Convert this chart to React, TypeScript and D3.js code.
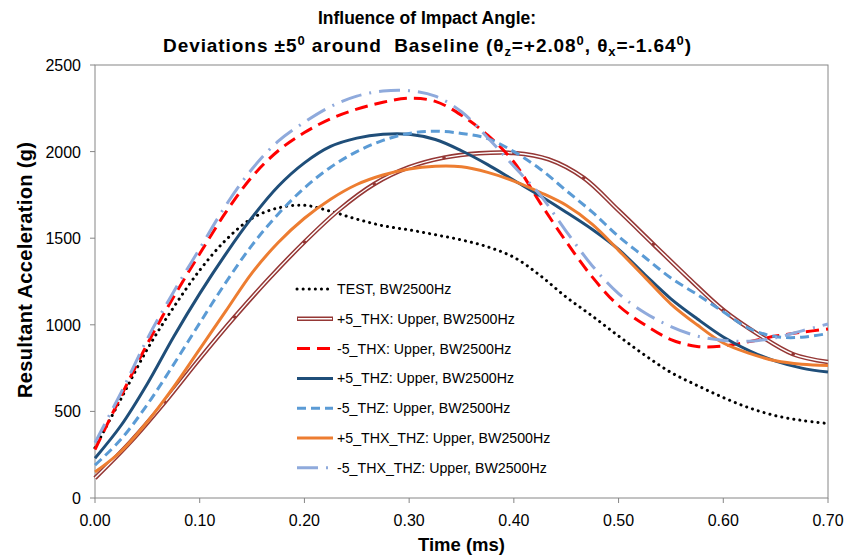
import React from 'react';
import * as d3 from 'd3';

const W = 846;
const H = 556;
const M = { left: 95, right: 18, top: 65, bottom: 58 };

// Time grid (ms) for most series
const timeMs = [0, 0.025, 0.05, 0.075, 0.1, 0.125, 0.15, 0.175, 0.2, 0.225, 0.25, 0.275, 0.3, 0.325, 0.35, 0.375, 0.4, 0.425, 0.45, 0.475, 0.5, 0.525, 0.55, 0.575, 0.6, 0.625, 0.65, 0.675, 0.7];

const testBW = [290, 575, 860, 1100, 1315, 1490, 1615, 1675, 1690, 1655, 1610, 1572, 1548, 1520, 1490, 1450, 1390, 1285, 1160, 1050, 935, 825, 725, 650, 580, 520, 475, 448, 430];
const minus5THX = [280, 590, 890, 1160, 1410, 1650, 1855, 2005, 2110, 2190, 2245, 2285, 2308, 2290, 2210, 2095, 1940, 1705, 1480, 1275, 1110, 1000, 915, 875, 878, 903, 935, 957, 976];
const plus5THZ = [230, 420, 660, 930, 1180, 1410, 1620, 1800, 1935, 2030, 2078, 2100, 2100, 2070, 2005, 1925, 1835, 1745, 1650, 1550, 1435, 1290, 1150, 1035, 930, 850, 790, 750, 727];
const minus5THZ = [190, 340, 540, 770, 1010, 1245, 1460, 1640, 1790, 1910, 2000, 2065, 2105, 2118, 2105, 2075, 2000, 1900, 1775, 1650, 1510, 1390, 1270, 1175, 1075, 978, 932, 928, 950];
const plus5THXTHZ = [150, 270, 440, 640, 860, 1080, 1300, 1475, 1615, 1725, 1810, 1865, 1900, 1915, 1912, 1880, 1830, 1765, 1690, 1580, 1430, 1275, 1120, 1000, 895, 835, 792, 772, 765];
const minus5THXTHZ = [320, 610, 920, 1190, 1440, 1690, 1900, 2060, 2170, 2260, 2320, 2350, 2352, 2320, 2230, 2080, 1915, 1750, 1540, 1340, 1180, 1070, 990, 935, 910, 905, 925, 965, 1005];

// +5_THX series sampled on its own grid (markers on every other point)
const plus5THXTime = [0, 0.0333, 0.0667, 0.1, 0.1333, 0.1667, 0.2, 0.2333, 0.2667, 0.3, 0.3333, 0.3667, 0.4, 0.4333, 0.4667, 0.5, 0.5333, 0.5667, 0.6, 0.6333, 0.6667, 0.7];
const plus5THX = [115, 320, 554, 805, 1045, 1270, 1478, 1665, 1813, 1910, 1965, 1990, 1992, 1955, 1848, 1660, 1465, 1270, 1085, 945, 830, 785];

const xTicks = [0, 0.1, 0.2, 0.3, 0.4, 0.5, 0.6, 0.7];
const yTicks = [0, 500, 1000, 1500, 2000, 2500];

const legendLabels = [
  'TEST, BW2500Hz',
  '+5_THX: Upper, BW2500Hz',
  '-5_THX: Upper, BW2500Hz',
  '+5_THZ: Upper, BW2500Hz',
  '-5_THZ: Upper, BW2500Hz',
  '+5_THX_THZ: Upper, BW2500Hz',
  '-5_THX_THZ: Upper, BW2500Hz',
];

const FONT = '"Liberation Sans", Arial, sans-serif';

type Style = { color: string; width: number; dash?: string; cap?: string; kind?: string };

const styles: Style[] = [
  { color: '#000000', width: 3, dash: '0.1 6', cap: 'round' },
  { color: '#953735', width: 4.5, kind: 'double' },
  { color: '#FF0000', width: 3, dash: '13 7' },
  { color: '#1F4E79', width: 3 },
  { color: '#5B9BD5', width: 3, dash: '9 5' },
  { color: '#ED7D31', width: 3 },
  { color: '#8FAADC', width: 3, dash: '21 8 2 8', cap: 'butt' },
];

export default function App() {
  const iw = W - M.left - M.right;
  const ih = H - M.top - M.bottom;
  const x = d3.scaleLinear().domain([0, 0.7]).range([M.left, M.left + iw]);
  const y = d3.scaleLinear().domain([0, 2500]).range([M.top + ih, M.top]);

  const line = d3
    .line<[number, number]>()
    .x((d) => x(d[0]))
    .y((d) => y(d[1]))
    .curve(d3.curveCatmullRom.alpha(0.5));

  const zipT = (vals: number[]) => timeMs.map((t, i) => [t, vals[i]] as [number, number]);

  const seriesData: [number, number][][] = [
    zipT(testBW),
    plus5THXTime.map((t, i) => [t, plus5THX[i]] as [number, number]),
    zipT(minus5THX),
    zipT(plus5THZ),
    zipT(minus5THZ),
    zipT(plus5THXTHZ),
    zipT(minus5THXTHZ),
  ];

  const markers = plus5THXTime
    .map((t, i) => [t, plus5THX[i]] as [number, number])
    .filter((_, i) => i > 0 && i % 2 === 0 && i < plus5THXTime.length - 1);

  const legendX0 = 297;
  const legendX1 = 333;
  const legendY0 = 289;
  const legendDy = 29.8;

  const axisColor = '#868686';

  return (
    <svg
      width={W}
      height={H}
      style={{ position: 'absolute', left: 0, top: 0, background: '#fff' }}
      fontFamily={FONT}
    >
      <rect x={0} y={0} width={W} height={H} fill="#fff" />
      {/* Title */}
      <text x={427} y={24} textAnchor="middle" fontSize={17.5} fontWeight="bold" fill="#000">
        Influence of Impact Angle:
      </text>
      <text
        x={163}
        y={52}
        textAnchor="start"
        fontSize={19}
        fontWeight="bold"
        fill="#000"
        textLength={528}
        lengthAdjust="spacing"
      >
        <tspan>Deviations ±5</tspan>
        <tspan fontSize={13} dy={-7}>0</tspan>
        <tspan dy={7}>{' around \u00a0Baseline (θ'}</tspan>
        <tspan fontSize={13} dy={4}>z</tspan>
        <tspan dy={-4}>=+2.08</tspan>
        <tspan fontSize={13} dy={-7}>0</tspan>
        <tspan dy={7}>, θ</tspan>
        <tspan fontSize={13} dy={4}>x</tspan>
        <tspan dy={-4}>=-1.64</tspan>
        <tspan fontSize={13} dy={-7}>0</tspan>
        <tspan dy={7}>)</tspan>
      </text>

      {/* plot border */}
      <rect x={M.left} y={M.top} width={iw} height={ih} fill="none" stroke={axisColor} strokeWidth={1} />

      {/* ticks */}
      {xTicks.map((t) => (
        <g key={'xt' + t}>
          <line x1={x(t)} x2={x(t)} y1={M.top + ih} y2={M.top + ih + 5} stroke={axisColor} />
          <text x={x(t)} y={M.top + ih + 28} textAnchor="middle" fontSize={16} fill="#000">
            {t.toFixed(2)}
          </text>
        </g>
      ))}
      {yTicks.map((v) => (
        <g key={'yt' + v}>
          <line x1={M.left - 5} x2={M.left} y1={y(v)} y2={y(v)} stroke={axisColor} />
          <text x={M.left - 14} y={y(v) + 6} textAnchor="end" fontSize={16} fill="#000">
            {v}
          </text>
        </g>
      ))}

      {/* axis titles */}
      <text x={x(0.35)} y={551} textAnchor="middle" fontSize={18.5} fontWeight="bold" fill="#000">
        Time (ms)
      </text>
      <text
        transform={`translate(32, 270) rotate(-90)`}
        textAnchor="middle"
        fontSize={20}
        fontWeight="bold"
        fill="#000"
        textLength={256}
        lengthAdjust="spacing"
      >
        Resultant Acceleration (g)
      </text>

      {/* series */}
      {seriesData.map((d, i) => {
        const s = styles[i];
        const p = line(d) || '';
        if (s.kind === 'double') {
          return (
            <g key={'s' + i}>
              <path d={p} fill="none" stroke={s.color} strokeWidth={s.width} />
              <path d={p} fill="none" stroke="#ffffff" strokeWidth={1.4} />
              {markers.map((m, j) => (
                <circle key={j} cx={x(m[0])} cy={y(m[1])} r={1.8} fill={s.color} />
              ))}
            </g>
          );
        }
        return (
          <path
            key={'s' + i}
            d={p}
            fill="none"
            stroke={s.color}
            strokeWidth={s.width}
            strokeDasharray={s.dash}
            strokeLinecap={(s.cap as any) || 'butt'}
          />
        );
      })}

      {/* legend */}
      {legendLabels.map((lab, i) => {
        const s = styles[i];
        const ly = legendY0 + i * legendDy;
        let sym: React.ReactNode;
        if (s.kind === 'double') {
          sym = (
            <g>
              <line x1={legendX0} x2={legendX1} y1={ly} y2={ly} stroke={s.color} strokeWidth={s.width} />
              <line x1={legendX0 + 1} x2={legendX1 - 1} y1={ly} y2={ly} stroke="#fff" strokeWidth={1.4} />
            </g>
          );
        } else {
          sym = (
            <line
              x1={legendX0}
              x2={legendX1}
              y1={ly}
              y2={ly}
              stroke={s.color}
              strokeWidth={s.width}
              strokeDasharray={s.dash}
              strokeLinecap={(s.cap as any) || 'butt'}
            />
          );
        }
        return (
          <g key={'lg' + i}>
            {sym}
            <text x={legendX1 + 4} y={ly + 5} fontSize={14.2} fill="#000">
              {lab}
            </text>
          </g>
        );
      })}
    </svg>
  );
}
